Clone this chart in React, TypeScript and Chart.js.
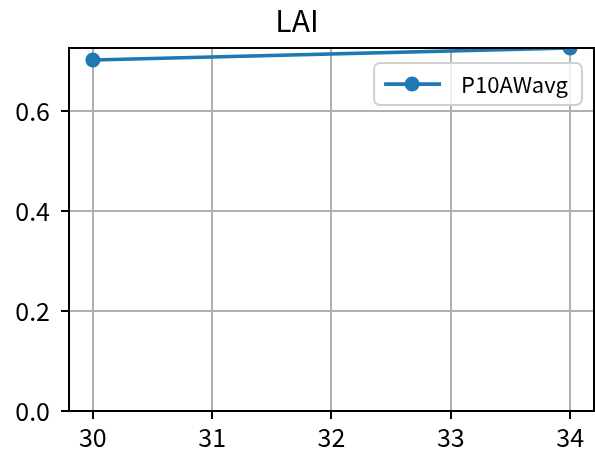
import React, { useEffect, useRef } from "react";
import { Chart, registerables } from "chart.js";

Chart.register(...registerables);

const days = [30, 34];
const lai = [0.702, 0.726];
const xTicks = [30, 31, 32, 33, 34];
const yTicks = [0, 0.2, 0.4, 0.6];
const seriesName = "P10AWavg";
const titleText = "LAI";

const FONT = "'Noto Sans CJK SC', 'Noto Sans', sans-serif";
const BLUE = "#1f77b4";
const TICK_SIZE = 25;
const LEGEND_SIZE = 22;

const framePlugin = {
  id: "frame",
  afterDraw(chart: any) {
    const { ctx, chartArea } = chart;
    const { left, right, top, bottom } = chartArea;
    ctx.save();
    ctx.strokeStyle = "#000";
    ctx.lineWidth = 2;
    ctx.strokeRect(left, top, right - left, bottom - top);

    // legend
    ctx.font = `${LEGEND_SIZE}px ${FONT}`;
    const tw = ctx.measureText(seriesName).width;
    const boxW = 87 + tw + 14;
    const boxH = 42;
    const bx = right - 12 - boxW;
    const by = top + 15;
    const r = 6;
    ctx.beginPath();
    ctx.moveTo(bx + r, by);
    ctx.arcTo(bx + boxW, by, bx + boxW, by + boxH, r);
    ctx.arcTo(bx + boxW, by + boxH, bx, by + boxH, r);
    ctx.arcTo(bx, by + boxH, bx, by, r);
    ctx.arcTo(bx, by, bx + boxW, by, r);
    ctx.closePath();
    ctx.fillStyle = "rgba(255,255,255,0.8)";
    ctx.fill();
    ctx.strokeStyle = "#d0d0d0";
    ctx.lineWidth = 2;
    ctx.stroke();
    const cy = by + boxH / 2;
    ctx.strokeStyle = BLUE;
    ctx.lineWidth = 3.75;
    ctx.beginPath();
    ctx.moveTo(bx + 10, cy);
    ctx.lineTo(bx + 67, cy);
    ctx.stroke();
    ctx.fillStyle = BLUE;
    ctx.beginPath();
    ctx.arc(bx + 38, cy, 7.5, 0, Math.PI * 2);
    ctx.fill();
    ctx.fillStyle = "#000";
    ctx.textBaseline = "middle";
    ctx.textAlign = "left";
    ctx.fillText(seriesName, bx + 87, cy + 1);
    ctx.restore();
  },
};

export default function App() {
  const ref = useRef<HTMLCanvasElement>(null);
  useEffect(() => {
    if (!ref.current) return;
    const chart = new Chart(ref.current, {
      type: "line",
      data: {
        datasets: [
          {
            label: seriesName,
            data: days.map((d, i) => ({ x: d, y: lai[i] })),
            borderColor: BLUE,
            backgroundColor: BLUE,
            borderWidth: 3.75,
            pointRadius: 7.5,
            pointBackgroundColor: BLUE,
            pointBorderWidth: 0,
            tension: 0,
            clip: 0,
          } as any,
        ],
      },
      options: {
        animation: false,
        responsive: false,
        maintainAspectRatio: false,
        layout: { autoPadding: false, padding: { left: 0, right: 1, top: 0, bottom: 0 } },
        plugins: {
          legend: { display: false },
          tooltip: { enabled: false },
          title: {
            display: true,
            text: titleText,
            color: "#000",
            font: { family: FONT, size: 30, weight: "normal", lineHeight: 1.2 },
            padding: { top: 3, bottom: 9 },
          },
        },
        scales: {
          x: {
            type: "linear",
            min: 29.8,
            max: 34.2,
            afterBuildTicks: (s: any) => {
              s.ticks = xTicks.map((v) => ({ value: v }));
            },
            afterFit: (s: any) => {
              s.height = 44;
              s.paddingLeft = 0;
              s.paddingRight = 0;
            },
            ticks: {
              color: "#000",
              font: { family: FONT, size: TICK_SIZE },
              padding: 3,
              maxRotation: 0,
              callback: (v: any) => String(v),
            },
            grid: {
              color: "#b0b0b0",
              lineWidth: 2,
              tickColor: "#000",
              tickLength: 8,
              drawTicks: true,
            },
            border: { color: "#000", width: 2 },
          },
          y: {
            type: "linear",
            min: 0,
            max: 0.726,
            afterBuildTicks: (s: any) => {
              s.ticks = yTicks.map((v) => ({ value: v }));
            },
            afterFit: (s: any) => {
              s.width = 69;
              s.paddingTop = 0;
              s.paddingBottom = 0;
            },
            ticks: {
              color: "#000",
              font: { family: FONT, size: TICK_SIZE },
              padding: 11,
              callback: (v: any) => Number(v).toFixed(1),
            },
            grid: {
              color: "#b0b0b0",
              lineWidth: 2,
              tickColor: "#000",
              tickLength: 8,
            },
            border: { color: "#000", width: 2 },
          },
        },
      },
      plugins: [framePlugin],
    });
    return () => chart.destroy();
  }, []);
  return (
    <div style={{ position: "fixed", left: 0, top: 0, width: 595, height: 455, background: "#fff" }}>
      <canvas ref={ref} width={595} height={455} style={{ width: 595, height: 455 }} />
    </div>
  );
}
